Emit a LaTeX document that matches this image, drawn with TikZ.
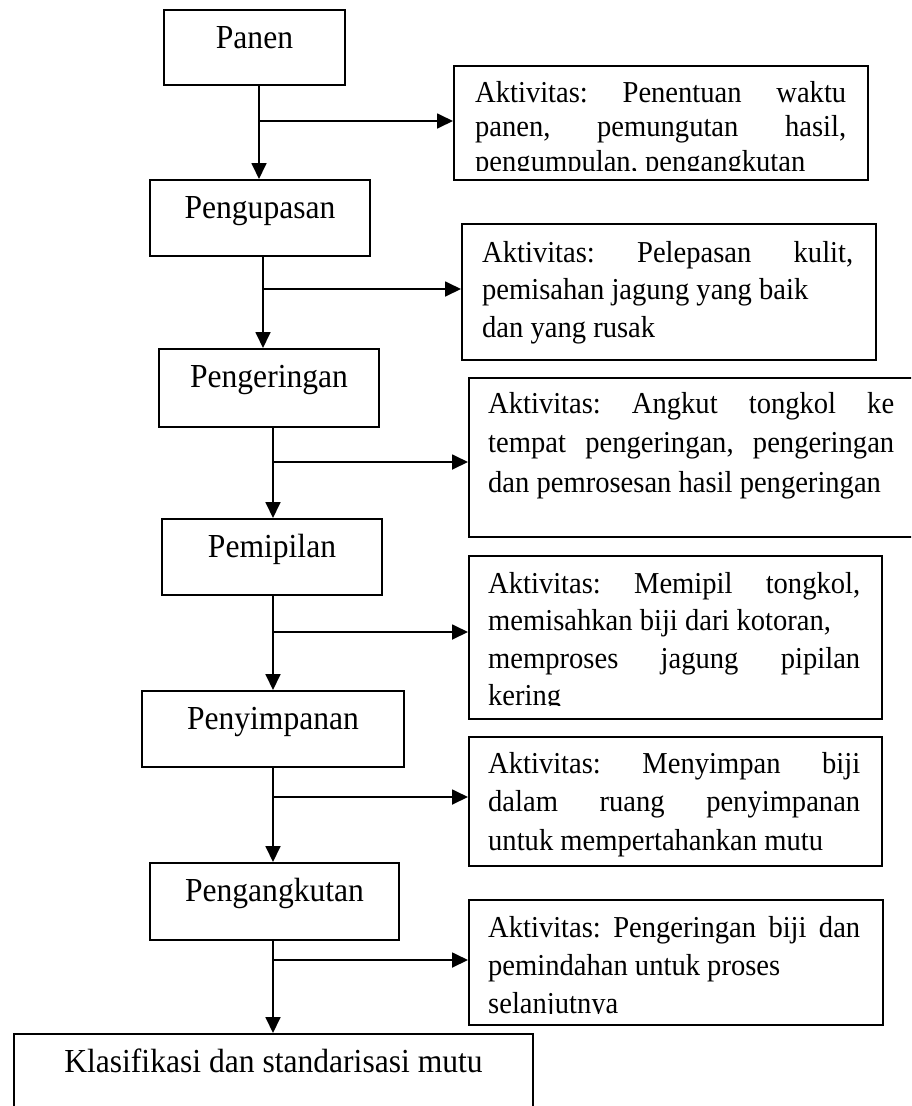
\documentclass[tikz,border=0pt]{standalone}
\usepackage{fontspec}
\setmainfont{Liberation Serif}[FakeStretch=0.94]
\usetikzlibrary{arrows.meta}
\frenchspacing
\newcommand\jline[2]{\makebox[#1pt][s]{#2}}
\tikzset{
  lbox/.style={draw, line width=1.8pt, inner xsep=0pt, inner ysep=0pt, text height=39pt, anchor=north, font=\fontsize{33.6}{38}\selectfont},
  rbox/.style={draw, line width=1.8pt, inner sep=0pt, anchor=north west},
  rtext/.style={inner sep=0pt, anchor=base west, font=\fontsize{30.4}{36}\selectfont\frenchspacing},
  flow/.style={line width=1.8pt, -{Triangle[length=16pt,width=15pt]}},
}
\begin{document}
\begin{tikzpicture}[x=1pt,y=-1pt]
\clip (0,0) rectangle (911,1106);
\fill[white] (0,0) rectangle (911,1106);
% left process boxes
\node[lbox, minimum width=181pt, text depth=36pt] (panen) at (254.5,9) {Panen};
\node[lbox, minimum width=220pt, text depth=37pt] (kupas) at (260,179) {Pengupasan};
\node[lbox, minimum width=220pt, text depth=39pt] (kering) at (269,348) {Pengeringan};
\node[lbox, minimum width=220pt, text depth=37pt] (pipil) at (272,518) {Pemipilan};
\node[lbox, minimum width=262pt, text depth=37pt] (simpan) at (273,690) {Penyimpanan};
\node[lbox, minimum width=249pt, text depth=38pt] (angkut) at (274.5,862) {Pengangkutan};
\node[lbox, minimum width=519pt, text depth=80pt] (klas) at (273.5,1033) {Klasifikasi dan standarisasi mutu};
% activity boxes
\node[rbox, minimum width=414pt, minimum height=114pt] (a1) at (453,65) {};
\node[rbox, minimum width=414pt, minimum height=136pt] (a2) at (461,223) {};
\node[rbox, minimum width=462pt, minimum height=159pt] (a3) at (468,377) {};
\node[rbox, minimum width=413pt, minimum height=163pt] (a4) at (468,555) {};
\node[rbox, minimum width=413pt, minimum height=129pt] (a5) at (468,736) {};
\node[rbox, minimum width=414pt, minimum height=125pt] (a6) at (468,899) {};
% activity texts
\begin{scope}
\clip (a1.north west) rectangle (867,170.5);
\node[rtext] (t1) at (475,102) {\parbox[t]{420pt}{\baselineskip=34.5pt
\jline{371}{Aktivitas: Penentuan waktu}\\
\jline{371}{panen, pemungutan hasil,}\\
pengumpulan, pengangkutan}};
\end{scope}
\node[rtext] (t2) at (482,262) {\parbox[t]{420pt}{\baselineskip=37.5pt
\jline{371}{Aktivitas: Pelepasan kulit,}\\
pemisahan jagung yang baik\\
dan yang rusak}};
\node[rtext] (t3) at (488,413) {\parbox[t]{440pt}{\baselineskip=39.5pt
\jline{406}{Aktivitas: Angkut tongkol ke}\\
\jline{406}{tempat pengeringan, pengeringan}\\
dan pemrosesan hasil pengeringan}};
\begin{scope}
\clip (a4.north west) rectangle (881,705.5);
\node[rtext] (t4) at (488,593) {\parbox[t]{420pt}{\baselineskip=37.5pt
\jline{372}{Aktivitas: Memipil tongkol,}\\
memisahkan biji dari kotoran,\\
\jline{372}{memproses jagung pipilan}\\
kering}};
\end{scope}
\node[rtext] (t5) at (488,773) {\parbox[t]{420pt}{\baselineskip=38.5pt
\jline{372}{Aktivitas: Menyimpan biji}\\
\jline{372}{dalam ruang penyimpanan}\\
untuk mempertahankan mutu}};
\begin{scope}
\clip (a6.north west) rectangle (882,1013);
\node[rtext] (t6) at (488,937) {\parbox[t]{420pt}{\baselineskip=38pt
\jline{372}{Aktivitas: Pengeringan biji dan}\\
pemindahan untuk proses\\
selanjutnya}};
\end{scope}
% connectors
\coordinate (b1) at (259,121);
\coordinate (b2) at (263,289);
\coordinate (b3) at (273,462);
\coordinate (b4) at (273,632);
\coordinate (b5) at (273,797);
\coordinate (b6) at (273,960);
\draw[flow] (b1 |- panen.south) -- (b1 |- kupas.north);
\draw[flow] (b1) -- (b1 -| a1.west);
\draw[flow] (b2 |- kupas.south) -- (b2 |- kering.north);
\draw[flow] (b2) -- (b2 -| a2.west);
\draw[flow] (b3 |- kering.south) -- (b3 |- pipil.north);
\draw[flow] (b3) -- (b3 -| a3.west);
\draw[flow] (b4 |- pipil.south) -- (b4 |- simpan.north);
\draw[flow] (b4) -- (b4 -| a4.west);
\draw[flow] (b5 |- simpan.south) -- (b5 |- angkut.north);
\draw[flow] (b5) -- (b5 -| a5.west);
\draw[flow] (b6 |- angkut.south) -- (b6 |- klas.north);
\draw[flow] (b6) -- (b6 -| a6.west);
\end{tikzpicture}
\end{document}
